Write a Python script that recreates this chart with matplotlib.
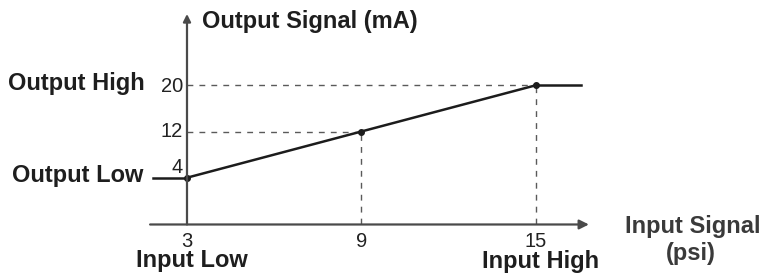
import matplotlib.pyplot as plt

plt.rcParams['font.family'] = ['Liberation Sans', 'DejaVu Sans']

# transfer curve: input pressure (psi) -> output current (mA)
input_psi = [3, 9, 15]
output_ma = [4, 12, 20]
x_tick_labels = ['3', '9', '15']
y_tick_labels = ['4', '12', '20']
# flat parts outside the calibrated range
low_flat_x = [1.83, 3]
high_flat_x = [15, 16.56]

fig = plt.figure(figsize=(7.66, 2.73), dpi=100)
ax = fig.add_axes([0, 0, 1, 1])
ax.set_xlim(-3.435, 22.925)
ax.set_ylim(-12.50, 34.77)
ax.axis('off')

axis_y = -4.1
axis_col = '#4a4a4a'
ink = '#1c1c1c'

# axes with arrow heads
ax.annotate('', xy=(16.83, axis_y), xytext=(1.73, axis_y),
            arrowprops=dict(arrowstyle='-|>', mutation_scale=14, lw=1.6,
                            color=axis_col, shrinkA=0, shrinkB=0))
ax.annotate('', xy=(3, 32.35), xytext=(3, axis_y),
            arrowprops=dict(arrowstyle='-|>', mutation_scale=11, lw=1.6,
                            color=axis_col, shrinkA=0, shrinkB=0))

# dashed guide lines
dash = dict(color='#5a5a5a', lw=1.0, linestyle=(0, (4.2, 4.4)))
for x, y in zip(input_psi[1:], output_ma[1:]):
    ax.plot([3, x], [y, y], **dash)
    ax.plot([x, x], [axis_y, y], **dash)

# curve
ax.plot(input_psi, output_ma, color=ink, lw=1.8, marker='o', markersize=4)
ax.plot(low_flat_x, [output_ma[0]] * 2, color=ink, lw=1.8)
ax.plot(high_flat_x, [output_ma[-1]] * 2, color=ink, lw=1.8)

# tick labels
tick_fs = 14.5
ax.text(2.86, output_ma[2] - 1.16, y_tick_labels[2], ha='right', va='baseline', fontsize=tick_fs, color='#222')
ax.text(2.86, output_ma[1] - 0.95, y_tick_labels[1], ha='right', va='baseline', fontsize=tick_fs, color='#222')
ax.text(2.86, output_ma[0] + 0.81, y_tick_labels[0], ha='right', va='baseline', fontsize=tick_fs, color='#222')
for x, lab in zip(input_psi, x_tick_labels):
    ax.text(x, -8.0, lab, ha='center', va='baseline', fontsize=tick_fs, color='#222')

# labels
lab_fs = 17
bold = dict(fontsize=lab_fs, fontweight='bold', color='#1e1e1e', va='baseline')
ax.text(3.52, 29.92, 'Output Signal (mA)', ha='left', **bold)
ax.text(1.555, 19.19, 'Output High', ha='right', **bold)
ax.text(1.49, 3.26, 'Output Low', ha='right', **bold)
ax.text(3.17, -11.46, 'Input Low', ha='center', **bold)
ax.text(15.18, -11.6, 'Input High', ha='center', **bold)
ax.text(20.41, -5.58, 'Input Signal', ha='center', fontsize=lab_fs, fontweight='bold',
        color='#3a3a3a', va='baseline')
ax.text(20.34, -10.3, '(psi)', ha='center', fontsize=lab_fs, fontweight='bold',
        color='#3a3a3a', va='baseline')

fig.savefig('out.png', dpi=100, facecolor='white')
